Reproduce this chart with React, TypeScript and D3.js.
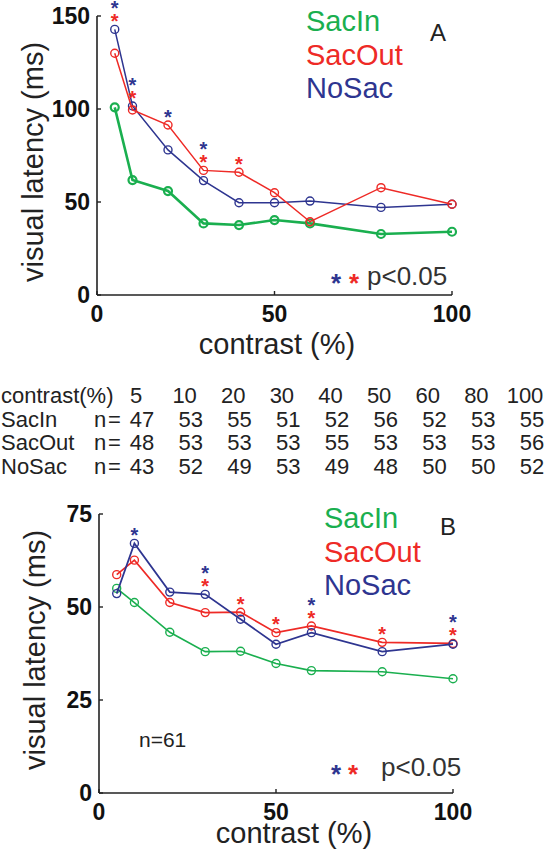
import React from "react";
import * as d3 from "d3";

const contrasts = [5, 10, 20, 30, 40, 50, 60, 80, 100];
const seriesNames = ["SacIn", "SacOut", "NoSac"];

// Panel A latencies (ms)
const sacInA = [100.9, 61.8, 55.9, 38.5, 37.6, 40.3, 38.5, 32.8, 34.0];
const sacOutA = [130.0, 99.5, 91.4, 67.0, 66.0, 55.0, 39.4, 57.7, 48.8];
const noSacA = [142.8, 101.6, 78.0, 61.5, 49.6, 49.6, 50.5, 47.1, 48.8];
const blueStarsA = [5, 10, 20, 30];
const redStarsA = [5, 10, 30, 40];

// Panel B latencies (ms)
const sacInB = [55.0, 51.2, 43.2, 38.0, 38.1, 34.8, 32.9, 32.6, 30.7];
const sacOutB = [58.7, 62.6, 51.2, 48.5, 48.6, 43.1, 44.9, 40.5, 40.2];
const noSacB = [53.6, 67.1, 54.0, 53.4, 46.7, 40.0, 43.1, 38.0, 40.0];
const blueStarsB = [10, 30, 60, 100];
const redStarsB = [30, 40, 50, 60, 80, 100];

// n table
const tableHeader = "contrast(%)";
const tableContrasts = ["5", "10", "20", "30", "40", "50", "60", "80", "100"];
const nSacIn = [47, 53, 55, 51, 52, 56, 52, 53, 55];
const nSacOut = [48, 53, 53, 53, 55, 53, 53, 53, 56];
const nNoSac = [43, 52, 49, 53, 49, 48, 50, 50, 52];

const xTicks = [0, 50, 100];
const yTicksA = [0, 50, 100, 150];
const yTicksB = [0, 25, 50, 75];

const GREEN = "#1aaf4f";
const RED = "#ee2a26";
const BLUE = "#2e3590";
const FONT = "'Liberation Sans', Arial, Helvetica, sans-serif";

type PanelProps = {
  x0: number; x1: number; yZero: number; yTopPx: number; yMax: number;
  yTicks: number[];
  inV: number[]; outV: number[]; noV: number[];
  blueStars: number[]; redStars: number[];
  order: string[];
  greenWidth: number; otherWidth: number; greenCircleWidth: number;
  letter: string; letterX: number; letterY: number;
  legendX: number; legendY: number; legendStep: number;
  pX: number; pY: number; starBlueX: number; starRedX: number; starY: number;
  xLabelX: number; xLabelY: number; yLabelX: number; yLabelY: number;
  note?: string; noteX?: number; noteY?: number;
};

function Panel(p: PanelProps) {
  const x = d3.scaleLinear().domain([0, 100]).range([p.x0, p.x1]);
  const y = d3.scaleLinear().domain([0, p.yMax]).range([p.yZero, p.yTopPx]);
  const line = d3.line<[number, number]>().x((d) => x(d[0])).y((d) => y(d[1]));
  const series: Record<string, { vals: number[]; color: string; w: number; cw: number }> = {
    SacIn: { vals: p.inV, color: GREEN, w: p.greenWidth, cw: p.greenCircleWidth },
    SacOut: { vals: p.outV, color: RED, w: p.otherWidth, cw: 1.4 },
    NoSac: { vals: p.noV, color: BLUE, w: p.otherWidth, cw: 1.4 },
  };
  const topPx = (c: number) => {
    const i = contrasts.indexOf(c);
    return Math.min(y(p.inV[i]), y(p.outV[i]), y(p.noV[i]));
  };
  const starFs = 20;
  const starBase = 0.58 * starFs;
  const legendColors = [GREEN, RED, BLUE];
  return (
    <g>
      {p.order.map((name) => {
        const s = series[name];
        const pts = contrasts.map((c, i) => [c, s.vals[i]] as [number, number]);
        return (
          <g key={name}>
            <path d={line(pts) || ""} fill="none" stroke={s.color} strokeWidth={s.w} />
            {pts.map((d, i) => (
              <circle key={i} cx={x(d[0])} cy={y(d[1])} r={4} fill="none" stroke={s.color} strokeWidth={s.cw} />
            ))}
          </g>
        );
      })}
      {p.redStars.map((c) => (
        <text key={"r" + c} x={x(c)} y={topPx(c) - 13 + starBase} textAnchor="middle" fontSize={starFs} fontWeight="bold" fill={RED} fontFamily={FONT}>*</text>
      ))}
      {p.blueStars.map((c) => {
        const off = p.redStars.includes(c) ? 26 : 13;
        return (
          <text key={"b" + c} x={x(c)} y={topPx(c) - off + starBase} textAnchor="middle" fontSize={starFs} fontWeight="bold" fill={BLUE} fontFamily={FONT}>*</text>
        );
      })}
      {/* axes */}
      <line x1={p.x0} x2={p.x1} y1={p.yZero} y2={p.yZero} stroke="#222" strokeWidth={1.6} />
      <line x1={p.x0} x2={p.x0} y1={p.yZero} y2={y(p.yMax)} stroke="#222" strokeWidth={1.6} />
      {xTicks.map((t) => (
        <g key={"xt" + t}>
          <line x1={x(t)} x2={x(t)} y1={p.yZero} y2={p.yZero - 4} stroke="#222" strokeWidth={1.4} />
          <text x={x(t)} y={p.yZero + 27} textAnchor="middle" fontSize={23} fontWeight="bold" fontFamily={FONT} fill="#111">{t}</text>
        </g>
      ))}
      {p.yTicks.map((t) => (
        <g key={"yt" + t}>
          <line x1={p.x0} x2={p.x0 + 4} y1={y(t)} y2={y(t)} stroke="#222" strokeWidth={1.4} />
          <text x={p.x0 - 7} y={y(t) + 8} textAnchor="end" fontSize={23} fontWeight="bold" fontFamily={FONT} fill="#111">{t}</text>
        </g>
      ))}
      {/* legend */}
      {seriesNames.map((n, i) => (
        <text key={n} x={p.legendX} y={p.legendY + i * p.legendStep} fontSize={29} fill={legendColors[i]} fontFamily={FONT}>{n}</text>
      ))}
      <text x={p.letterX} y={p.letterY} fontSize={24} fill="#222" fontFamily={FONT}>{p.letter}</text>
      {/* significance key */}
      <text x={p.starBlueX} y={p.starY + 0.58 * 26} textAnchor="middle" fontSize={26} fontWeight="bold" fill={BLUE} fontFamily={FONT}>*</text>
      <text x={p.starRedX} y={p.starY + 0.58 * 26} textAnchor="middle" fontSize={26} fontWeight="bold" fill={RED} fontFamily={FONT}>*</text>
      <text x={p.pX} y={p.pY} fontSize={26} fill="#333" fontFamily={FONT}>p&lt;0.05</text>
      {p.note && (
        <text x={p.noteX} y={p.noteY} fontSize={21} fill="#222" fontFamily={FONT}>{p.note}</text>
      )}
      {/* axis labels */}
      <text x={p.xLabelX} y={p.xLabelY} textAnchor="middle" fontSize={29} fill="#222" fontFamily={FONT}>contrast (%)</text>
      <text transform={`translate(${p.yLabelX},${p.yLabelY}) rotate(-90)`} textAnchor="middle" fontSize={29} fill="#222" fontFamily={FONT}>visual latency (ms)</text>
    </g>
  );
}

function NTable() {
  const hx = d3.scalePoint<string>().domain(tableContrasts).range([136, 525]);
  const rx = d3.scalePoint<string>().domain(tableContrasts).range([142, 532]);
  const rows: [string, number[]][] = [
    ["SacIn", nSacIn],
    ["SacOut", nSacOut],
    ["NoSac", nNoSac],
  ];
  const base = 403;
  const step = 23.5;
  return (
    <g fontFamily={FONT} fontSize={22} fill="#222">
      <text x={1} y={base}>{tableHeader}</text>
      {tableContrasts.map((c) => (
        <text key={c} x={hx(c)} y={base} textAnchor="middle">{c}</text>
      ))}
      {rows.map(([name, vals], r) => (
        <g key={name}>
          <text x={1} y={base + (r + 1) * step}>{name}</text>
          <text x={94} y={base + (r + 1) * step}>n</text>
          <text x={108} y={base + (r + 1) * step}>=</text>
          {vals.map((v, i) => (
            <text key={i} x={rx(tableContrasts[i])} y={base + (r + 1) * step} textAnchor="middle">{v}</text>
          ))}
        </g>
      ))}
    </g>
  );
}

export default function App() {
  return (
    <svg width={548} height={853} style={{ position: "absolute", left: 0, top: 0, background: "#fff" }}>
      <rect width={548} height={853} fill="#fff" />
      <Panel
        x0={97} x1={452} yZero={295} yTopPx={16} yMax={150} yTicks={yTicksA}
        inV={sacInA} outV={sacOutA} noV={noSacA}
        blueStars={blueStarsA} redStars={redStarsA}
        order={["SacIn", "NoSac", "SacOut"]}
        greenWidth={2.6} otherWidth={1.5} greenCircleWidth={2.2}
        letter="A" letterX={430} letterY={41}
        legendX={306} legendY={31} legendStep={33.5}
        pX={367} pY={285} starBlueX={336} starRedX={354} starY={277}
        xLabelX={277} xLabelY={354} yLabelX={43} yLabelY={162}
      />
      <NTable />
      <Panel
        x0={99} x1={453} yZero={793} yTopPx={514} yMax={75} yTicks={yTicksB}
        inV={sacInB} outV={sacOutB} noV={noSacB}
        blueStars={blueStarsB} redStars={redStarsB}
        order={["SacIn", "SacOut", "NoSac"]}
        greenWidth={1.6} otherWidth={1.7} greenCircleWidth={1.4}
        letter="B" letterX={440} letterY={535}
        legendX={324} legendY={528} legendStep={33.5}
        pX={381} pY={776} starBlueX={336} starRedX={353} starY={768}
        xLabelX={294} xLabelY={843} yLabelX={45} yLabelY={650}
        note="n=61" noteX={139} noteY={747}
      />
    </svg>
  );
}
